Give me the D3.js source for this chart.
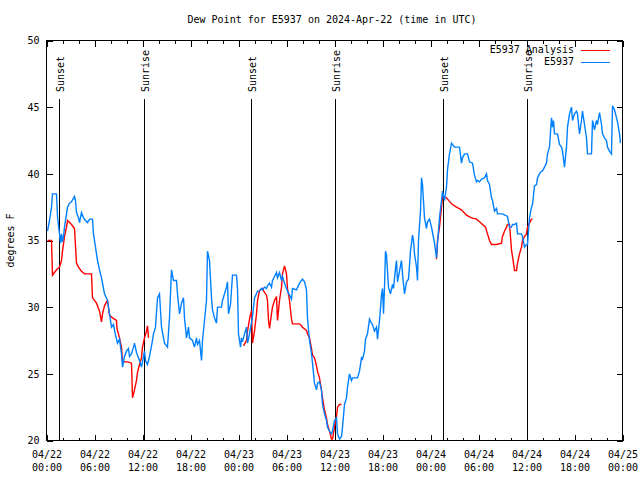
<!DOCTYPE html>
<html>
<head>
<meta charset="utf-8">
<script src="https://cdn.jsdelivr.net/npm/d3@7"></script>
<style>
  html, body { margin: 0; padding: 0; background: #fff; }
  svg { display: block; }
  text { font-family: "DejaVu Sans Mono", "Liberation Mono", monospace; font-size: 10px; fill: #000; }
</style>
</head>
<body>
<svg id="chart" width="640" height="480"></svg>
<script>
// ---- data (hours since 2024-04-22 00:00 UTC) ----
const titleText = "Dew Point for E5937 on 2024-Apr-22 (time in UTC)";
const yLabel = "degrees F";
const seriesNames = ["E5937 Analysis", "E5937"];
const seriesColors = ["#ff0000", "#0080ff"];

const obsHours = [0.125,0.375,0.625,0.75,1.0,1.25,1.375,1.56,1.625,1.75,1.875,2.0,2.125,2.25,2.5,2.625,2.875,3.125,3.5,3.625,3.75,4.0,4.125,4.375,4.625,4.875,5.125,5.375,5.75,5.875,6.125,6.375,6.625,6.875,7.125,7.25,7.625,7.875,8.125,8.375,8.625,8.875,9.125,9.375,9.5,9.75,10.0,10.25,10.375,10.625,10.875,11.0,11.25,11.625,11.875,12.25,12.375,12.625,12.875,13.25,13.375,13.625,13.875,14.125,14.375,14.75,15.125,15.375,15.625,15.875,16.25,16.375,16.625,16.875,17.125,17.25,17.5,17.75,17.875,18.25,18.5,18.75,18.875,19.125,19.375,19.5,19.75,20.0,20.125,20.375,20.625,20.75,21.0,21.25,21.375,21.875,22.0,22.5,22.625,22.75,23.0,23.25,23.75,23.875,24.0,24.25,24.375,24.5,24.75,25.0,25.125,25.375,25.75,26.0,26.25,26.375,26.625,26.875,27.0,27.25,27.5,27.625,27.875,28.125,28.25,28.5,28.75,28.875,29.125,29.375,29.5,29.75,30.0,30.125,30.375,30.625,30.75,31.25,31.625,32.0,32.25,32.5,32.625,32.875,33.125,33.25,33.5,33.75,33.875,34.125,34.375,34.5,34.75,35.0,35.125,35.375,35.625,35.75,36.0,36.25,36.375,36.625,36.875,37.0,37.25,37.5,37.625,37.875,38.125,38.25,38.75,38.875,39.125,39.375,39.5,39.75,39.875,40.125,40.375,40.625,40.75,41.0,41.25,41.375,41.625,41.875,42.0,42.125,42.25,42.375,42.5,42.75,43.0,43.25,43.375,43.625,43.75,43.875,44.125,44.375,44.5,44.75,45.0,45.25,45.5,45.75,45.875,46.0,46.25,46.375,46.5,46.75,46.875,47.0,47.25,47.5,47.625,47.875,48.125,48.25,48.5,48.75,48.875,49.125,49.375,49.5,49.75,50.0,50.125,50.375,50.625,51.0,51.625,51.875,52.0,52.25,52.625,52.875,53.25,53.5,53.75,53.875,54.125,54.375,54.75,55.0,55.125,55.375,55.625,55.75,56.0,56.25,56.375,57.0,57.625,57.875,58.125,58.25,58.5,58.75,58.875,59.375,59.5,59.75,60.0,60.125,60.375,60.625,60.75,61.0,61.25,61.375,61.625,61.875,62.0,62.25,62.5,62.625,62.875,63.125,63.25,63.375,63.5,63.875,64.125,64.375,64.5,64.75,65.0,65.125,65.375,65.625,65.75,66.0,66.25,66.375,66.625,66.875,67.0,67.25,67.5,67.625,68.125,68.25,68.5,68.75,68.875,69.125,69.375,69.5,69.75,70.0,70.125,70.375,70.625,70.75,71.0,71.25,71.375,71.625,71.75];
const obsValues = [35.7,36.5,37.5,38.5,38.5,38.5,36.8,35.8,35.5,34.8,35.5,34.9,35.3,36.0,37.0,37.5,37.8,37.9,38.3,38.0,37.1,36.7,36.35,37.1,36.7,36.5,36.35,36.6,36.6,35.5,34.5,33.5,32.8,32.2,31.4,31.0,30.5,29.5,28.5,28.7,27.9,27.3,27.6,26.5,25.5,26.3,26.7,26.9,26.3,26.5,27.0,27.3,26.6,26.0,25.5,26.7,26.0,25.7,26.3,27.5,28.0,28.5,30.7,31.0,28.5,27.3,27.0,29.2,32.8,32.0,32.0,31.0,29.5,30.3,30.7,29.2,27.7,28.5,27.7,27.5,27.0,27.7,27.2,27.5,26.0,27.5,29.0,30.5,34.2,33.5,30.7,29.8,29.2,28.8,30.0,30.0,30.5,31.5,31.9,29.5,30.2,32.4,32.4,31.4,28.0,27.0,27.7,27.4,28.0,28.5,27.3,28.0,29.3,30.7,31.0,31.2,31.2,31.4,31.3,31.5,31.4,31.6,31.8,31.5,32.0,32.3,32.6,32.2,32.6,32.0,32.3,31.8,31.4,31.2,30.9,30.6,31.4,31.3,31.8,32.1,31.9,31.3,29.2,27.5,26.5,25.8,24.3,23.8,24.3,24.4,23.8,22.7,22.0,21.5,21.0,20.7,20.5,20.7,21.5,21.7,20.5,20.1,20.3,21.0,22.7,23.2,24.0,25.0,24.5,24.7,24.7,24.7,25.2,26.2,26.1,26.7,27.6,28.0,29.1,28.8,28.7,28.2,28.5,27.6,29.0,30.9,31.4,29.5,31.5,34.2,33.9,31.5,31.0,31.7,31.4,32.9,33.5,31.9,32.7,33.5,32.5,31.0,31.9,32.1,34.2,35.4,35.0,34.0,33.0,32.0,35.0,37.2,39.7,39.2,36.7,35.9,36.4,36.6,36.0,35.6,34.8,33.7,34.8,36.7,38.0,38.7,38.0,39.0,40.3,41.5,42.3,42.0,42.0,40.8,41.2,41.5,41.5,40.9,40.8,39.9,39.4,39.5,39.4,39.6,39.7,40.0,39.5,39.2,38.2,38.0,37.2,37.4,37.0,37.0,36.8,36.0,36.0,36.2,36.2,36.3,35.5,35.5,35.3,34.5,34.7,34.7,36.7,37.5,37.7,39.1,39.2,39.7,40.0,40.2,40.2,40.5,40.8,41.5,42.0,44.2,43.5,44.0,43.0,43.0,42.2,42.0,41.7,40.5,42.0,43.5,44.5,45.0,44.0,44.5,44.7,44.5,43.0,44.0,44.7,43.7,42.7,41.5,41.5,44.0,43.3,44.0,43.7,44.6,43.7,43.0,42.7,42.5,42.0,41.7,41.5,45.1,44.8,44.2,43.9,43.0,42.3];

const anaHours = [0.125,0.625,0.75,1.25,1.625,1.875,2.0,2.25,2.5,2.625,3.125,3.5,3.75,4.0,4.375,4.75,5.375,5.625,5.75,6.25,6.5,6.625,6.875,7.0,7.25,7.5,7.625,7.875,8.25,8.75,8.81,9.125,9.375,9.5,9.75,10.125,10.625,10.75,11.0,11.25,11.375,11.625,11.875,12.0,12.25,12.5,12.625,12.75,
  18.0,
  24.625,25.0,25.125,25.375,25.625,25.75,26.0,26.25,26.375,26.625,27.0,27.25,27.5,27.625,27.75,27.875,28.125,28.25,28.5,28.75,28.875,29.125,29.375,29.5,29.75,30.0,30.125,30.375,30.625,30.75,31.625,31.875,32.0,32.5,32.625,32.875,33.125,33.25,33.5,33.75,33.875,34.125,34.375,34.5,34.75,35.0,35.125,35.375,35.625,35.75,36.0,36.25,36.375,36.625,36.875,
  42.0,
  48.75,48.875,49.125,49.375,49.5,50.0,50.625,51.25,51.875,52.5,53.125,53.75,54.125,54.5,54.875,55.125,55.375,55.625,56.25,56.875,57.0,57.25,57.5,57.625,57.875,58.0,58.125,58.375,58.5,58.75,58.875,59.125,59.375,59.5,59.75,60.0,60.125,60.375,60.625,60.75];
const anaValues = [35.0,35.0,32.4,32.8,33.0,33.5,34.2,35.3,36.0,36.5,36.2,35.9,33.3,33.0,32.7,32.5,32.5,32.5,30.7,30.3,29.9,29.7,28.9,29.5,30.1,30.4,30.5,29.4,29.2,29.0,28.4,27.7,27.0,26.0,25.9,25.9,25.8,23.2,23.8,24.5,25.1,25.7,26.2,27.0,27.7,28.2,28.6,27.7,
  null,
  27.1,27.5,28.2,29.1,29.75,27.3,28.2,29.5,30.5,31.25,31.4,31.1,30.9,30.5,29.0,28.4,29.5,30.0,30.5,30.8,29.0,30.5,31.5,32.5,33.1,32.5,31.4,30.5,29.1,28.75,28.75,28.6,28.5,28.25,28.0,27.7,26.9,26.4,26.2,25.6,25.2,24.7,23.75,23.2,22.3,21.7,21.2,20.7,20.1,20.1,21.0,21.8,22.5,22.7,22.7,
  null,
  33.6,35.0,36.0,37.5,38.3,38.2,37.75,37.5,37.3,36.9,36.7,36.6,36.4,36.2,36.0,35.5,35.0,34.7,34.7,34.8,35.3,35.7,36.0,36.2,36.2,35.3,34.3,33.3,32.75,32.75,33.3,34.0,34.5,35.0,35.3,35.5,36.0,36.3,36.6,36.6];

const eventHours = [1.56, 12.125, 25.5, 36.0, 49.5, 60.0];
const eventLabels = ["Sunset", "Sunrise", "Sunset", "Sunrise", "Sunset", "Sunrise"];
const yTicks = [20, 25, 30, 35, 40, 45, 50];

// ---- setup ----
const startMs = Date.UTC(2024, 3, 22);
const toDate = h => new Date(startMs + h * 3600000);
const svg = d3.select("#chart");
const L = 46.5, R = 622.5, T = 40.5, B = 440.5;

const x = d3.scaleUtc().domain([toDate(0), toDate(72)]).range([L, R]);
const y = d3.scaleLinear().domain([20, 50]).range([B, T]);

// minor ticks (x)
const minorTicks = x.ticks(d3.utcHour.every(2));
const axMinB = svg.append("g").attr("transform", `translate(0,${B})`)
  .call(d3.axisBottom(x).tickValues(minorTicks).tickSizeInner(-3).tickSizeOuter(0).tickFormat(""));
const axMinT = svg.append("g").attr("transform", `translate(0,${T})`)
  .call(d3.axisTop(x).tickValues(minorTicks).tickSizeInner(-3).tickSizeOuter(0).tickFormat(""));

// major x ticks
const majorTicks = x.ticks(d3.utcHour.every(6));
const fmtDate = d3.utcFormat("%m/%d"), fmtTime = d3.utcFormat("%H:%M");
const axB = svg.append("g").attr("transform", `translate(0,${B})`)
  .call(d3.axisBottom(x).tickValues(majorTicks).tickSizeInner(-6).tickSizeOuter(0).tickPadding(0).tickFormat(""));
const axT = svg.append("g").attr("transform", `translate(0,${T})`)
  .call(d3.axisTop(x).tickValues(majorTicks).tickSizeInner(-6).tickSizeOuter(0).tickFormat(""));

axB.selectAll(".tick").each(function(d) {
  const t = d3.select(this).append("text").attr("text-anchor", "middle").attr("fill", "#000");
  t.append("tspan").attr("x", 0).attr("y", 17).text(fmtDate(d));
  t.append("tspan").attr("x", 0).attr("y", 30).text(fmtTime(d));
});

// y axes
const axL = svg.append("g").attr("transform", `translate(${L},0)`)
  .call(d3.axisLeft(y).tickValues(yTicks).tickSizeInner(-6).tickSizeOuter(0).tickPadding(7).tickFormat(d3.format("d")));
const axR = svg.append("g").attr("transform", `translate(${R},0)`)
  .call(d3.axisRight(y).tickValues(yTicks).tickSizeInner(-6).tickSizeOuter(0).tickFormat(""));

[axMinB, axMinT, axB, axT, axL, axR].forEach(a => {
  a.select(".domain").remove();
  a.selectAll("line").attr("stroke", "#000").attr("shape-rendering", "crispEdges");
  a.selectAll("text").attr("font-family", null).attr("font-size", null);
});
axL.selectAll("text").attr("dy", "0.34em").attr("fill", "#000");

// event lines
const ev = svg.append("g");
eventHours.forEach((h, i) => {
  const ex = Math.round(x(toDate(h))) + 0.5;
  ev.append("line").attr("x1", ex).attr("x2", ex).attr("y1", 99).attr("y2", B)
    .attr("stroke", "#000").attr("stroke-width", 1).attr("shape-rendering", "crispEdges");
  ev.append("text").attr("transform", `translate(${ex + 4},92) rotate(-90)`)
    .attr("text-anchor", "start").text(eventLabels[i]);
});

// series
const clip = svg.append("clipPath").attr("id", "clip").append("rect")
  .attr("x", L).attr("y", T - 1).attr("width", R - L).attr("height", B - T + 2);

const line = d3.line()
  .defined(d => d.v !== null)
  .x(d => x(toDate(d.h)))
  .y(d => y(d.v));

const anaData = anaHours.map((h, i) => ({h, v: anaValues[i]}));
const obsData = obsHours.map((h, i) => ({h, v: obsValues[i]}));

svg.append("path").datum(anaData).attr("clip-path", "url(#clip)")
  .attr("fill", "none").attr("stroke", seriesColors[0]).attr("stroke-width", 1.4)
  .attr("stroke-linejoin", "miter").attr("d", line);
svg.append("path").datum(obsData).attr("clip-path", "url(#clip)")
  .attr("fill", "none").attr("stroke", seriesColors[1]).attr("stroke-width", 1.4)
  .attr("stroke-linejoin", "miter").attr("d", line);

// frame
svg.append("rect").attr("x", L).attr("y", T).attr("width", R - L).attr("height", B - T)
  .attr("fill", "none").attr("stroke", "#000").attr("shape-rendering", "crispEdges");

// title and y label
svg.append("text").attr("x", 332).attr("y", 23).attr("text-anchor", "middle").text(titleText);
svg.append("text").attr("transform", `translate(14,${(T + B) / 2}) rotate(-90)`)
  .attr("text-anchor", "middle").text(yLabel);

// legend
const leg = svg.append("g");
seriesNames.forEach((name, i) => {
  const ly = 50 + i * 12;
  leg.append("text").attr("x", 574).attr("y", ly).attr("dy", "0.34em")
    .attr("text-anchor", "end").text(name);
  leg.append("line").attr("x1", 581).attr("x2", 610).attr("y1", ly + 0.5).attr("y2", ly + 0.5)
    .attr("stroke", seriesColors[i]).attr("stroke-width", 1).attr("shape-rendering", "crispEdges");
});
</script>
</body>
</html>
